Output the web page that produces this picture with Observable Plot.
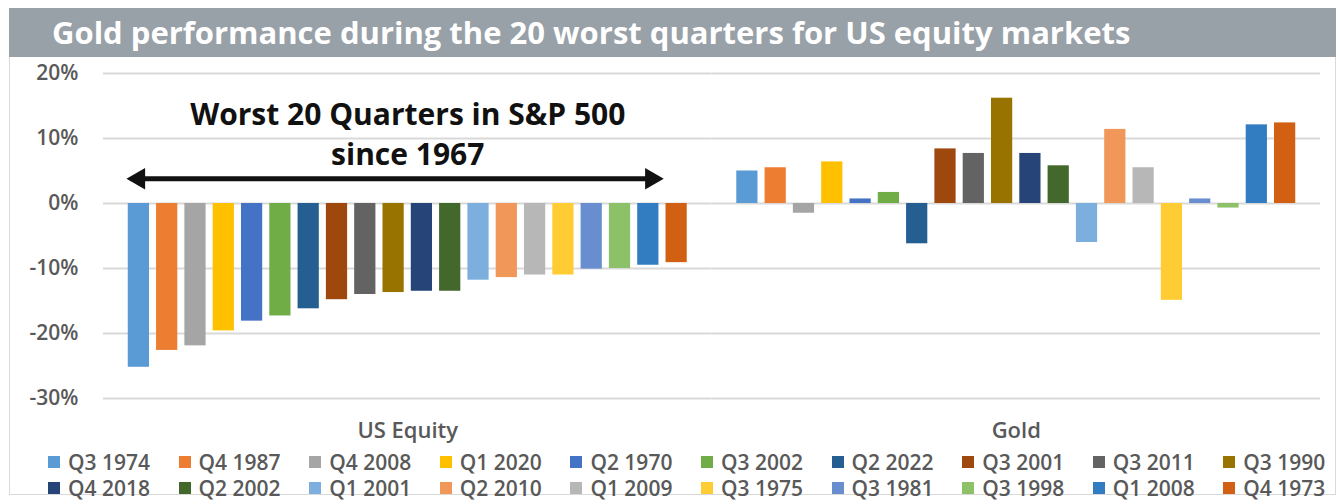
<!DOCTYPE html>
<html><head><meta charset="utf-8">
<script src="https://cdn.jsdelivr.net/npm/d3@7"></script>
<script src="https://cdn.jsdelivr.net/npm/@observablehq/plot@0.6"></script>
<style>
body{margin:0;background:#fff;font-family:"Open Sans",sans-serif;}
#wrap{position:relative;width:1340px;height:502px;overflow:hidden;background:#fff;}
#frame{position:absolute;left:9px;top:8px;width:1327px;height:487px;border:1px solid #d9d9d9;box-sizing:border-box;}
#title{position:absolute;left:9px;top:8px;width:1327px;height:49px;background:#98a0a8;color:#fff;font-weight:700;font-size:31px;line-height:49px;padding-left:43px;box-sizing:border-box;white-space:nowrap;}
#chart{position:absolute;left:0;top:57px;}
#legend{position:absolute;left:48px;top:449px;}
.row{display:flex;height:26px;align-items:center;}
.item{width:130.6px;display:flex;align-items:center;flex:none;}
.sw{width:12px;height:12px;margin-right:8px;flex:none;}
.lbl{font-size:21px;font-weight:600;color:#595959;white-space:nowrap;}
</style></head><body>
<div id="wrap"><div id="frame"></div><div id="title"></div><div id="chart"></div><div id="legend"></div></div>
<script>
const titleText = "Gold performance during the 20 worst quarters for US equity markets";
const groups = ["US Equity", "Gold"];
const series = ["Q3 1974","Q4 1987","Q4 2008","Q1 2020","Q2 1970","Q3 2002","Q2 2022","Q3 2001","Q3 2011","Q3 1990",
                "Q4 2018","Q2 2002","Q1 2001","Q2 2010","Q1 2009","Q3 1975","Q3 1981","Q3 1998","Q1 2008","Q4 1973"];
const equity = [-25.2,-22.6,-21.9,-19.6,-18.1,-17.3,-16.2,-14.8,-14.0,-13.7,
                -13.5,-13.5,-11.8,-11.4,-11.0,-11.0,-10.1,-10.0,-9.5,-9.1];
const gold = [5.0,5.5,-1.5,6.4,0.7,1.7,-6.2,8.4,7.7,16.2,
              7.7,5.8,-6.0,11.4,5.5,-14.9,0.7,-0.7,12.1,12.4];
const colors = ["#5b9bd5","#ed7d31","#a5a5a5","#ffc000","#4472c4","#70ad47","#255e91","#9e480e","#636363","#997300",
                "#264478","#43682b","#7cafdd","#f1975a","#b7b7b7","#ffcd33","#698ed0","#8cc168","#327dc2","#d26012"];
const yTicks = [20, 10, 0, -10, -20, -30];
const noteLines = ["Worst 20 Quarters in S&P 500", "since 1967"];
const noteY = [13.6, 7.4];
const arrowGroup = "US Equity";
const arrowFrom = "Q3 1974";
const arrowTo = "Q1 2008";
const arrowY = 3.8;

document.getElementById("title").textContent = titleText;

const data = [];
groups.forEach((g, gi) => series.forEach((s, si) => data.push({group: g, series: s, value: (gi === 0 ? equity : gold)[si]})));
const arrow = [{group: arrowGroup, from: arrowFrom, to: arrowTo, y: arrowY}];

const chart = Plot.plot({
  width: 1340, height: 388,
  marginTop: 16, marginBottom: 47, marginLeft: 103, marginRight: 20,
  style: {fontFamily: "'Open Sans', sans-serif", background: "transparent", overflow: "visible"},
  fx: {domain: groups, padding: 0, label: null, round: false},
  x: {domain: series, paddingInner: 0.25, paddingOuter: 0.875, axis: null, round: false},
  y: {domain: [-30, 20]},
  color: {domain: series, range: colors},
  marks: [
    Plot.gridY(yTicks, {stroke: "#d9d9d9", strokeOpacity: 1, strokeWidth: 2}),
    Plot.axisY(yTicks, {tickSize: 0, tickPadding: 25, tickFormat: d => d + "%", fontSize: 21, fontWeight: 600, color: "#595959", label: null}),
    Plot.axisFx({anchor: "bottom", tickSize: 0, tickPadding: 24, fontSize: 22, fontWeight: 600, color: "#595959", label: null}),
    Plot.barY(data, {fx: "group", x: "series", y: "value", fill: "series"}),
    Plot.text(noteLines, {fx: () => arrowGroup, y: (d, i) => noteY[i], text: d => d, frameAnchor: "middle", fontSize: 30, fontWeight: 700, fill: "#111"}),
    Plot.link(arrow, {fx: "group", x1: "from", x2: "to", y1: "y", y2: "y", stroke: "#111", strokeWidth: 5}),
    Plot.dot(arrow, {fx: "group", x: "from", y: "y", symbol: "triangle", r: 8, rotate: -90, fill: "#111", stroke: null}),
    Plot.dot(arrow, {fx: "group", x: "to", y: "y", symbol: "triangle", r: 8, rotate: 90, fill: "#111", stroke: null, dx: 3})
  ]
});
document.getElementById("chart").appendChild(chart);

const colorScale = chart.scale("color");
const legend = d3.select("#legend");
const rows = [series.slice(0, 10), series.slice(10)];
rows.forEach(r => {
  const row = legend.append("div").attr("class", "row");
  r.forEach(s => {
    const it = row.append("div").attr("class", "item");
    it.append("div").attr("class", "sw").style("background", colorScale.apply(s));
    it.append("div").attr("class", "lbl").text(s);
  });
});
</script>
</body></html>
